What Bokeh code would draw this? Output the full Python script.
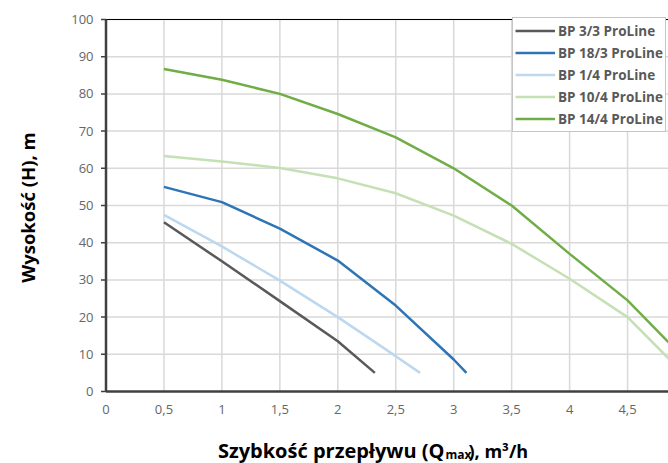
import math
from bokeh.plotting import figure
from bokeh.models import Range1d, Label, Legend
from bokeh.core.properties import value
from bokeh.embed import file_html
from bokeh.resources import INLINE

# ---- data ----
q_bp33 = [0.5, 1.0, 1.5, 2.0, 2.32]
h_bp33 = [45.5, 35.0, 24.3, 13.5, 5.0]

q_bp183 = [0.5, 1.0, 1.5, 2.0, 2.5, 3.0, 3.11]
h_bp183 = [55.0, 50.9, 43.8, 35.2, 23.1, 8.6, 5.0]

q_bp14 = [0.5, 1.0, 1.5, 2.0, 2.5, 2.71]
h_bp14 = [47.5, 39.0, 29.8, 20.0, 9.5, 5.0]

q_bp104 = [0.5, 1.0, 1.5, 2.0, 2.5, 3.0, 3.5, 4.0, 4.5, 4.86]
h_bp104 = [63.3, 61.8, 60.1, 57.3, 53.3, 47.3, 39.7, 30.3, 20.0, 8.7]

q_bp144 = [0.5, 1.0, 1.5, 2.0, 2.5, 3.0, 3.5, 4.0, 4.5, 4.86]
h_bp144 = [86.7, 83.8, 80.0, 74.6, 68.3, 60.0, 50.0, 37.0, 24.5, 13.0]

series_names = ["BP 3/3 ProLine", "BP 18/3 ProLine", "BP 1/4 ProLine",
                "BP 10/4 ProLine", "BP 14/4 ProLine"]
series_colors = ["#595959", "#2E75B6", "#BDD7EE", "#C5E0B4", "#70AD47"]

x_ticks = [0, 0.5, 1, 1.5, 2, 2.5, 3, 3.5, 4, 4.5]
x_tick_labels = ["0", "0,5", "1", "1,5", "2", "2,5", "3", "3,5", "4", "4,5"]
y_ticks = [0, 10, 20, 30, 40, 50, 60, 70, 80, 90, 100]
y_tick_labels = ["0", "10", "20", "30", "40", "50", "60", "70", "80", "90", "100"]

x_title_main = "Szybkość przepływu (Q"
x_title_sub = "max"
x_title_end = "), m³/h"
y_title = "Wysokość (H), m"

FONT = "Open Sans"
W, H = 668, 463

# pixel <-> data helpers (layout only)
X0_PX, X_SCALE = 105.5, 115.9     # px of x=0, px per unit
Y0_PX, Y_SCALE = 391.0, 3.72      # px of y=0, px per unit
def X(px):
    return (px - X0_PX) / X_SCALE
def Y(py):
    return (Y0_PX - py) / Y_SCALE

x_max = X(W)
y_top = max(y_ticks)

p = figure(width=W, height=H, output_backend="svg", toolbar_location=None,
           x_range=Range1d(X(0), x_max), y_range=Range1d(Y(H), Y(0)),
           x_axis_location=None, y_axis_location=None,
           min_border=0, min_border_left=0, min_border_right=0,
           min_border_top=0, min_border_bottom=0)
p.outline_line_color = None
p.background_fill_color = "white"
p.border_fill_color = "white"
p.grid.visible = False

GRID = "#d9d9d9"
AXIS = "#404040"

# grid lines
p.segment(x0=x_ticks[1:], y0=0, x1=x_ticks[1:], y1=y_top, line_color=GRID, line_width=1.5)
p.segment(x0=0, y0=y_ticks[1:], x1=x_max, y1=y_ticks[1:], line_color=GRID, line_width=1.5)

# top border line
p.segment(x0=0, y0=y_top, x1=x_max, y1=y_top, line_color="black", line_width=1.2)

# axes
p.segment(x0=X(X0_PX - 5), y0=y_ticks, x1=0, y1=y_ticks, line_color=AXIS, line_width=1.5)
p.segment(x0=0, y0=0, x1=0, y1=y_top, line_color=AXIS, line_width=2.5)
p.segment(x0=0, y0=0, x1=x_max, y1=0, line_color=AXIS, line_width=2.5)

# tick labels
p.text(x=x_ticks, y=Y(409), text=x_tick_labels, text_align="center", text_baseline="middle",
       text_font=value(FONT), text_font_size="13px", text_color="#666666")
p.text(x=X(93), y=y_ticks, text=y_tick_labels, text_align="right", text_baseline="middle",
       text_font=value(FONT), text_font_size="13px", text_color="#666666")

# curves
xs = [q_bp33, q_bp183, q_bp14, q_bp104, q_bp144]
ys = [h_bp33, h_bp183, h_bp14, h_bp104, h_bp144]
items = []
for q, h, name, col in zip(xs, ys, series_names, series_colors):
    r = p.line(q, h, line_color=col, line_width=2.5)
    items.append((name, [r]))

legend = Legend(items=items, location=(512, 331))
legend.border_line_color = "#8c8c8c"
legend.border_line_width = 1.5
legend.background_fill_color = "white"
legend.background_fill_alpha = 1
legend.label_text_font = FONT
legend.label_text_font_style = "bold"
legend.label_text_font_size = "13.5px"
legend.label_text_color = "#595959"
legend.padding = 2
legend.spacing = 1
legend.label_height = 21
legend.glyph_height = 21
legend.glyph_width = 40
legend.label_standoff = 3
legend.margin = 0
p.add_layout(legend)

# axis titles
p.add_layout(Label(x=X(27), y=Y(207), text=y_title, angle=math.pi / 2,
                   text_align="center", text_baseline="middle", text_font=FONT,
                   text_font_style="bold", text_font_size="18.5px", text_color="black"))
p.add_layout(Label(x=X(444), y=Y(450), text=x_title_main, text_align="right",
                   text_baseline="alphabetic", text_font=FONT, text_font_style="bold",
                   text_font_size="20px", text_color="black"))
p.add_layout(Label(x=X(445), y=Y(454), text=x_title_sub, text_align="left",
                   text_baseline="alphabetic", text_font=FONT, text_font_style="bold",
                   text_font_size="12px", text_color="black"))
p.add_layout(Label(x=X(468), y=Y(450), text=x_title_end, text_align="left",
                   text_baseline="alphabetic", text_font=FONT, text_font_style="bold",
                   text_font_size="18px", text_color="black"))

open("out.html", "w").write(file_html(p, INLINE))
